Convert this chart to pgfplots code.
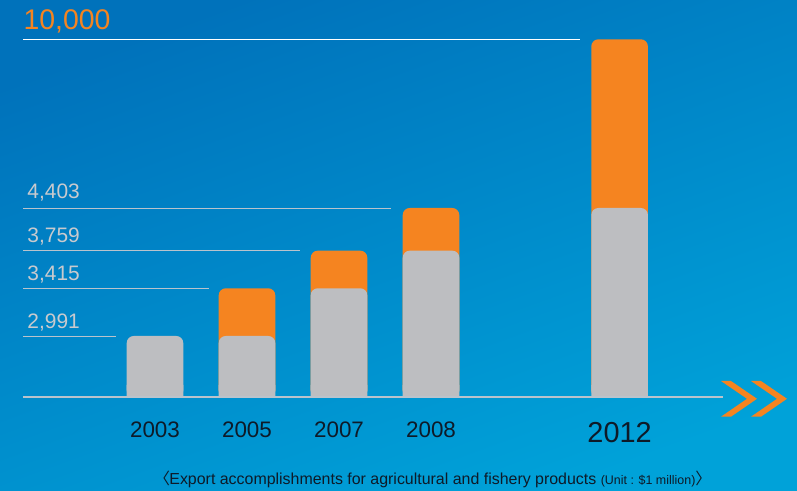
\documentclass[border=0pt]{standalone}
\usepackage{pgfplots}
\pgfplotsset{compat=1.18}
\usepackage{fontspec}
\setmainfont{Liberation Sans}
\newfontfamily\cjk{Noto Sans CJK SC}
\definecolor{bgtop}{HTML}{0072BB}
\definecolor{bgmid}{HTML}{008ECE}
\definecolor{bgbot}{HTML}{00A2D9}
\definecolor{barorange}{HTML}{F58420}
\definecolor{bargray}{HTML}{BDBEC1}
\definecolor{lblgray}{HTML}{C9CACE}
\definecolor{linegray}{HTML}{BAC3CC}
\definecolor{txtdark}{HTML}{0E1A28}
\begin{document}
\begin{tikzpicture}[x=1bp,y=1bp]
\shade[shading=axis, top color=bgtop, middle color=bgmid, bottom color=bgbot, shading angle=20] (0,0) rectangle (797,491);
\begin{axis}[
  at={(0,0)}, anchor=south west,
  scale only axis, width=797bp, height=491bp,
  xmin=-1.6848, xmax=6.9783,
  ymin=-4572, ymax=11304,
  y coord trafo/.code={\pgfmathparse{(#1<2991)?(#1/2991*61.3):((#1<3415)?(61.3+(#1-2991)/424*47.7):((#1<3759)?(109+(#1-3415)/344*37.6):((#1<4403)?(146.6+(#1-3759)/644*42.7):(189.3+(#1-4403)/5597*168.7))))}},
  hide axis, clip=false,
]
% totals (orange)
\addplot[ybar, bar width=0.615, bar shift=0pt, fill=barorange, draw=none, rounded corners=7bp]
  coordinates {(1,3415) (2,3759) (3,4403) (5.05,10000)};
% base values (gray)
\addplot[ybar, bar width=0.615, bar shift=0pt, fill=bargray, draw=none, rounded corners=7bp]
  coordinates {(0,2991) (1,2991) (2,3415) (3,3759) (5.05,4403)};
% square feet for the bars
\addplot[ybar, bar width=0.615, bar shift=0pt, fill=bargray, draw=none]
  coordinates {(0,600) (1,600) (2,600) (3,600) (5.05,600)};
% reference lines with values
\addplot[linegray, line width=0.9bp] coordinates {(-1.4348,2991) (-0.4239,2991)}
  node[pos=0, anchor=base west, yshift=7.7bp, text=lblgray, font=\fontsize{21}{24}\selectfont, inner sep=0pt, xshift=4bp] {2,991};
\addplot[linegray, line width=0.9bp] coordinates {(-1.4348,3415) (0.587,3415)}
  node[pos=0, anchor=base west, yshift=7.3bp, text=lblgray, font=\fontsize{21}{24}\selectfont, inner sep=0pt, xshift=4bp] {3,415};
\addplot[linegray, line width=0.9bp] coordinates {(-1.4348,3759) (1.576,3759)}
  node[pos=0, anchor=base west, yshift=7.7bp, text=lblgray, font=\fontsize{21}{24}\selectfont, inner sep=0pt, xshift=4bp] {3,759};
\addplot[linegray, line width=0.9bp] coordinates {(-1.4348,4403) (2.565,4403)}
  node[pos=0, anchor=base west, yshift=9bp, text=lblgray, font=\fontsize{21}{24}\selectfont, inner sep=0pt, xshift=4bp] {4,403};
\addplot[white, line width=1.2bp] coordinates {(-1.4348,10000) (4.62,10000)}
  node[pos=0, anchor=base west, yshift=9.3bp, text=barorange, font=\fontsize{28.5}{32}\selectfont, inner sep=0pt, xshift=0bp] {10,000};
% baseline
\addplot[linegray, line width=2bp] coordinates {(-1.4348,0) (6.17,0)};
% year labels
\node[anchor=base, yshift=-40.7bp, text=txtdark, font=\fontsize{22.5}{26}\selectfont, inner sep=0pt] at (axis cs:0,0) {2003};
\node[anchor=base, yshift=-40.7bp, text=txtdark, font=\fontsize{22.5}{26}\selectfont, inner sep=0pt] at (axis cs:1,0) {2005};
\node[anchor=base, yshift=-40.7bp, text=txtdark, font=\fontsize{22.5}{26}\selectfont, inner sep=0pt] at (axis cs:2,0) {2007};
\node[anchor=base, yshift=-40.7bp, text=txtdark, font=\fontsize{22.5}{26}\selectfont, inner sep=0pt] at (axis cs:3,0) {2008};
\node[anchor=base, yshift=-45.7bp, text=txtdark, font=\fontsize{29}{32}\selectfont, inner sep=0pt] at (axis cs:5.05,0) {2012};
\end{axis}
% chevrons
\fill[barorange] (721,110) -- (731,110) -- (757,92.2) -- (731,74.3) -- (721,74.3) -- (747,92.2) -- cycle;
\fill[barorange] (751,110) -- (761,110) -- (787,92.2) -- (761,74.3) -- (751,74.3) -- (777,92.2) -- cycle;
% caption
\node[anchor=base west, inner sep=0pt, text=txtdark, font=\fontsize{16}{18}\selectfont] at (162,6)
  {\kern-0.5em{\cjk 〈}\kern-0.05em Export accomplishments for agricultural and fishery products {\fontsize{12.5}{14}\selectfont(Unit : \$1 million)}{\cjk 〉}\kern-0.5em};
\pgfresetboundingbox
\path (0,0) rectangle (797,491);
\end{tikzpicture}
\end{document}
